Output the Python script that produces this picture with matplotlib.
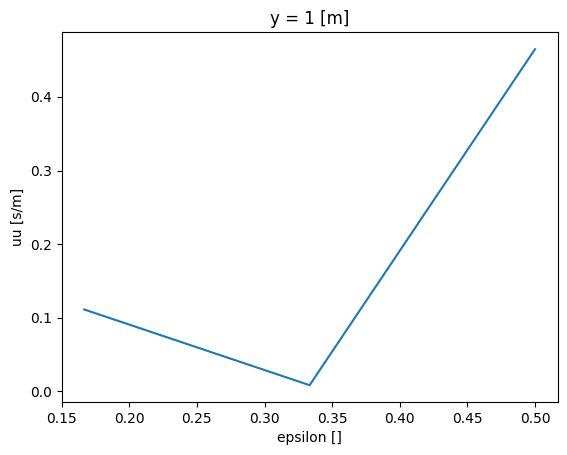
import matplotlib
matplotlib.use("Agg")
import matplotlib.pyplot as plt

# values
epsilon = [1/6, 1/3, 1/2]
uu = [0.111, 0.008, 0.465]

fig = plt.figure(figsize=(5.67, 4.55), dpi=100)
ax = fig.add_axes([0.1088, 0.1165, 0.8745, 0.8123])
ax.plot(epsilon, uu)
ax.set_title("y = 1 [m]")
ax.set_xlabel("epsilon []")
ax.set_ylabel("uu [s/m]")
fig.savefig("out.png", dpi=100)
